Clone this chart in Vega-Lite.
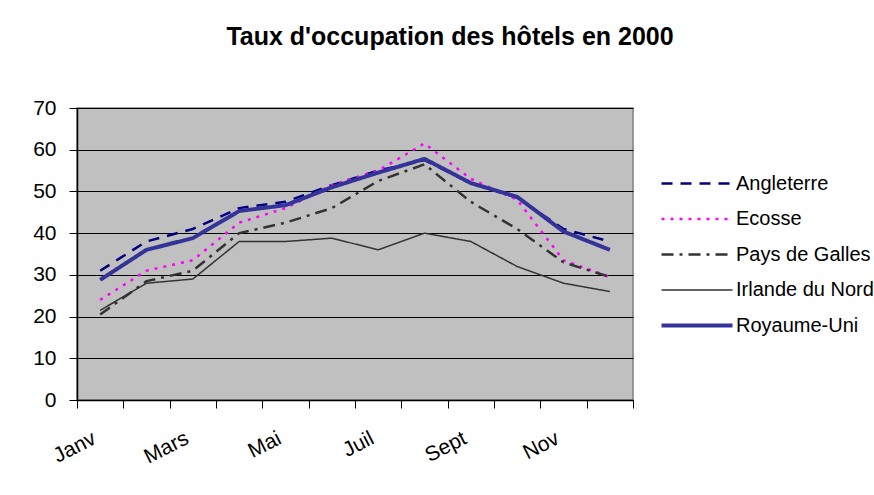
{
  "$schema": "https://vega.github.io/schema/vega-lite/v6.json",
  "autosize": "none",
  "width": 556,
  "height": 292,
  "padding": {"left": 77, "top": 108, "right": 241, "bottom": 95},
  "background": "white",
  "title": {
    "text": "Taux d'occupation des hôtels en 2000",
    "font": "Liberation Sans",
    "fontSize": 25,
    "fontWeight": "bold",
    "color": "black",
    "anchor": "middle",
    "dx": 95,
    "offset": 47
  },
  "config": {
    "font": "Liberation Sans",
    "view": {"fill": "#C0C0C0", "stroke": "#808080", "strokeWidth": 1.5},
    "axis": {
      "labelFont": "Liberation Sans",
      "labelFontSize": 21,
      "labelColor": "black",
      "domainColor": "black",
      "tickColor": "black",
      "tickSize": 8,
      "title": null
    }
  },
  "data": {
    "values": [
      {"mois": "Janv", "pays": "Angleterre", "taux": 31},
      {"mois": "Févr", "pays": "Angleterre", "taux": 38},
      {"mois": "Mars", "pays": "Angleterre", "taux": 41},
      {"mois": "Avr", "pays": "Angleterre", "taux": 46},
      {"mois": "Mai", "pays": "Angleterre", "taux": 47.5},
      {"mois": "Juin", "pays": "Angleterre", "taux": 51.5},
      {"mois": "Juil", "pays": "Angleterre", "taux": 55},
      {"mois": "Août", "pays": "Angleterre", "taux": 57.5},
      {"mois": "Sept", "pays": "Angleterre", "taux": 52},
      {"mois": "Oct", "pays": "Angleterre", "taux": 48.5},
      {"mois": "Nov", "pays": "Angleterre", "taux": 41},
      {"mois": "Déc", "pays": "Angleterre", "taux": 38},
      {"mois": "Janv", "pays": "Ecosse", "taux": 24},
      {"mois": "Févr", "pays": "Ecosse", "taux": 31},
      {"mois": "Mars", "pays": "Ecosse", "taux": 33.5},
      {"mois": "Avr", "pays": "Ecosse", "taux": 42.5},
      {"mois": "Mai", "pays": "Ecosse", "taux": 46},
      {"mois": "Juin", "pays": "Ecosse", "taux": 51.5},
      {"mois": "Juil", "pays": "Ecosse", "taux": 55},
      {"mois": "Août", "pays": "Ecosse", "taux": 61.5},
      {"mois": "Sept", "pays": "Ecosse", "taux": 53},
      {"mois": "Oct", "pays": "Ecosse", "taux": 48},
      {"mois": "Nov", "pays": "Ecosse", "taux": 33.5},
      {"mois": "Déc", "pays": "Ecosse", "taux": 29.5},
      {"mois": "Janv", "pays": "Pays de Galles", "taux": 20.5},
      {"mois": "Févr", "pays": "Pays de Galles", "taux": 28.5},
      {"mois": "Mars", "pays": "Pays de Galles", "taux": 31},
      {"mois": "Avr", "pays": "Pays de Galles", "taux": 40},
      {"mois": "Mai", "pays": "Pays de Galles", "taux": 42.5},
      {"mois": "Juin", "pays": "Pays de Galles", "taux": 46},
      {"mois": "Juil", "pays": "Pays de Galles", "taux": 52.5},
      {"mois": "Août", "pays": "Pays de Galles", "taux": 56.5},
      {"mois": "Sept", "pays": "Pays de Galles", "taux": 47.5},
      {"mois": "Oct", "pays": "Pays de Galles", "taux": 41},
      {"mois": "Nov", "pays": "Pays de Galles", "taux": 33},
      {"mois": "Déc", "pays": "Pays de Galles", "taux": 29.5},
      {"mois": "Janv", "pays": "Irlande du Nord", "taux": 21.5},
      {"mois": "Févr", "pays": "Irlande du Nord", "taux": 28},
      {"mois": "Mars", "pays": "Irlande du Nord", "taux": 29},
      {"mois": "Avr", "pays": "Irlande du Nord", "taux": 38},
      {"mois": "Mai", "pays": "Irlande du Nord", "taux": 38},
      {"mois": "Juin", "pays": "Irlande du Nord", "taux": 38.8},
      {"mois": "Juil", "pays": "Irlande du Nord", "taux": 36},
      {"mois": "Août", "pays": "Irlande du Nord", "taux": 40},
      {"mois": "Sept", "pays": "Irlande du Nord", "taux": 38},
      {"mois": "Oct", "pays": "Irlande du Nord", "taux": 32},
      {"mois": "Nov", "pays": "Irlande du Nord", "taux": 28},
      {"mois": "Déc", "pays": "Irlande du Nord", "taux": 26},
      {"mois": "Janv", "pays": "Royaume-Uni", "taux": 28.8},
      {"mois": "Févr", "pays": "Royaume-Uni", "taux": 36},
      {"mois": "Mars", "pays": "Royaume-Uni", "taux": 38.8},
      {"mois": "Avr", "pays": "Royaume-Uni", "taux": 45.3},
      {"mois": "Mai", "pays": "Royaume-Uni", "taux": 46.7},
      {"mois": "Juin", "pays": "Royaume-Uni", "taux": 51},
      {"mois": "Juil", "pays": "Royaume-Uni", "taux": 54.5},
      {"mois": "Août", "pays": "Royaume-Uni", "taux": 57.8},
      {"mois": "Sept", "pays": "Royaume-Uni", "taux": 52},
      {"mois": "Oct", "pays": "Royaume-Uni", "taux": 48.7},
      {"mois": "Nov", "pays": "Royaume-Uni", "taux": 40.4},
      {"mois": "Déc", "pays": "Royaume-Uni", "taux": 36}
    ]
  },
  "mark": {"type": "line", "strokeJoin": "round"},
  "encoding": {
    "x": {
      "field": "mois",
      "type": "ordinal",
      "sort": ["Janv", "Févr", "Mars", "Avr", "Mai", "Juin", "Juil", "Août", "Sept", "Oct", "Nov", "Déc"],
      "scale": {"type": "band", "paddingInner": 0, "paddingOuter": 0},
      "axis": {
        "tickBand": "extent",
        "labelAngle": -27,
        "labelAlign": "right",
        "labelBaseline": "middle",
        "labelPadding": 29,
        "labelOffset": -6,
        "labelFontSize": 21,
        "labelExpr": "indexof(['Janv','Mars','Mai','Juil','Sept','Nov'], datum.value) >= 0 ? datum.label : ''",
        "grid": false,
        "domainWidth": 1.5
      }
    },
    "y": {
      "field": "taux",
      "type": "quantitative",
      "scale": {"domain": [0, 70], "nice": false},
      "axis": {
        "values": [0, 10, 20, 30, 40, 50, 60, 70],
        "grid": true,
        "gridColor": "black",
        "gridWidth": 1,
        "labelPadding": 13,
        "domainWidth": 1.5
      }
    },
    "color": {
      "field": "pays",
      "type": "nominal",
      "scale": {
        "domain": ["Angleterre", "Ecosse", "Pays de Galles", "Irlande du Nord", "Royaume-Uni"],
        "range": ["#000080", "#FF00FF", "#333333", "#333333", "#333399"]
      },
      "legend": {
        "title": null,
        "orient": "none",
        "legendX": 583,
        "legendY": 58,
        "padding": 0,
        "symbolType": "stroke",
        "symbolSize": 5041,
        "clipHeight": 35,
        "rowPadding": 0.5,
        "labelOffset": 2,
        "labelFont": "Liberation Sans",
        "labelFontSize": 20,
        "labelColor": "black",
        "labelLimit": 300,
        "encode": {
          "symbols": {
            "update": {
              "strokeWidth": {"signal": "(datum.value === 'Royaume-Uni' ? 4 : (datum.value === 'Irlande du Nord' ? 1.5 : 2.5))"}
            }
          }
        }
      }
    },
    "strokeDash": {
      "field": "pays",
      "type": "nominal",
      "scale": {
        "domain": ["Angleterre", "Ecosse", "Pays de Galles", "Irlande du Nord", "Royaume-Uni"],
        "range": [[11, 8], [3, 6], [12, 6, 3, 6], [1, 0], [1, 0]]
      },
      "legend": {
        "title": null,
        "orient": "none",
        "legendX": 583,
        "legendY": 58,
        "padding": 0,
        "symbolType": "stroke",
        "symbolSize": 5041,
        "clipHeight": 35,
        "rowPadding": 0.5,
        "labelOffset": 2,
        "labelFont": "Liberation Sans",
        "labelFontSize": 20,
        "labelColor": "black",
        "labelLimit": 300,
        "encode": {
          "symbols": {
            "update": {
              "strokeWidth": {"signal": "(datum.value === 'Royaume-Uni' ? 4 : (datum.value === 'Irlande du Nord' ? 1.5 : 2.5))"}
            }
          }
        }
      }
    },
    "strokeWidth": {
      "condition": [
        {"test": "datum.pays === 'Royaume-Uni'", "value": 4},
        {"test": "datum.pays === 'Irlande du Nord'", "value": 1.5}
      ],
      "value": 2.5
    }
  }
}
